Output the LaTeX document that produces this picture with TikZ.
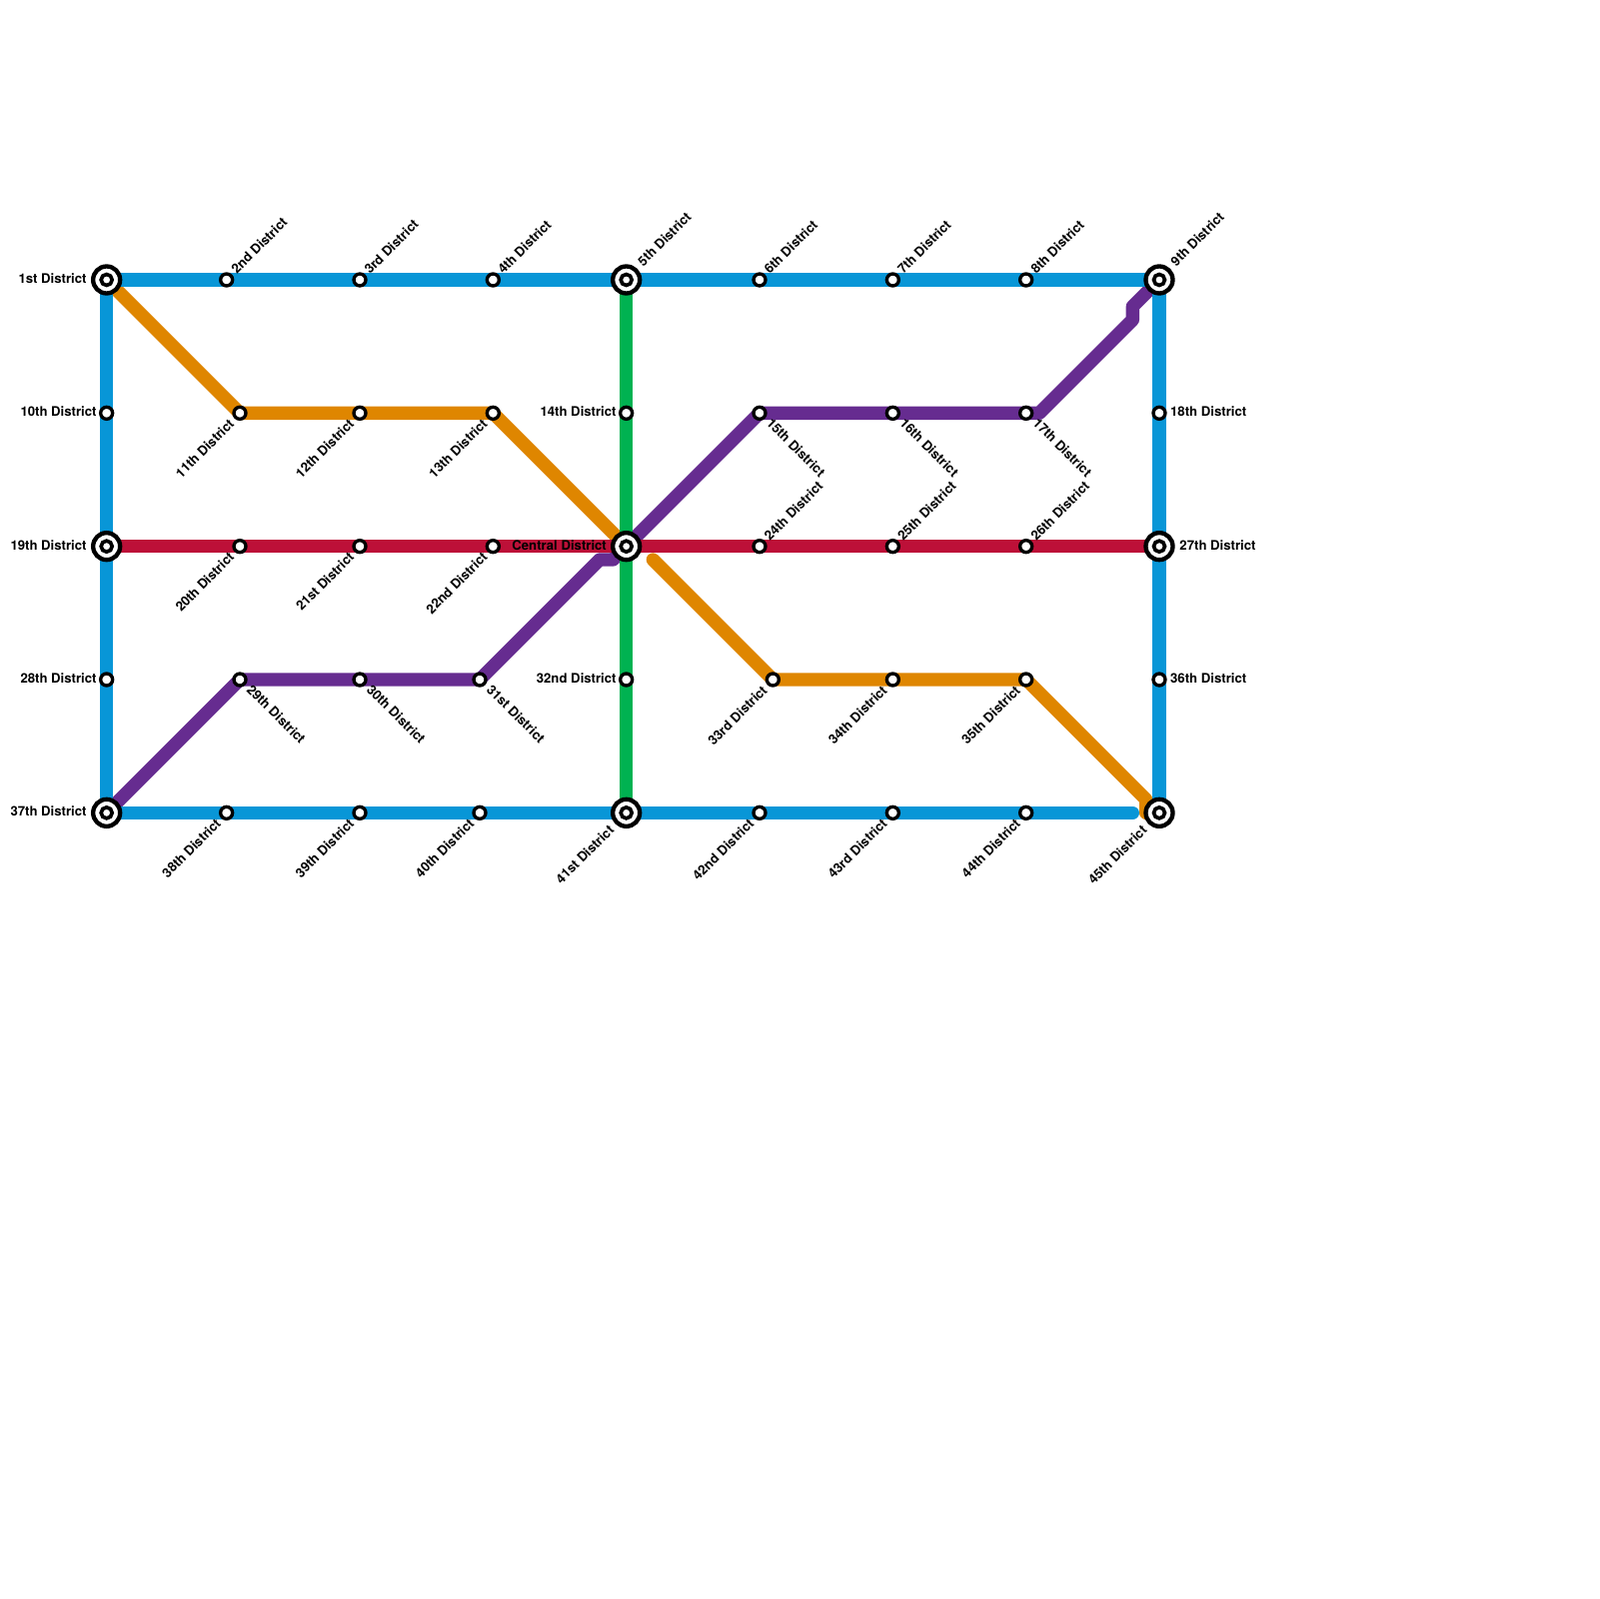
\documentclass[tikz,border=0pt]{standalone}
\usepackage{fontspec}
\setmainfont{TeX Gyre Heros}
\usetikzlibrary{backgrounds}
\definecolor{lineBlue}{HTML}{0896D7}
\definecolor{lineOrange}{HTML}{DF8600}
\definecolor{lineRed}{HTML}{BD1038}
\definecolor{lineGreen}{HTML}{00B251}
\definecolor{linePurple}{HTML}{662C90}
\begin{document}
\begin{tikzpicture}[
    x=2mm, y=-2mm,
    metro/.style={draw=#1, line width=2mm, line cap=round, line join=round},
    stop/.style={circle, draw=black, fill=white, line width=.5mm, minimum size=1.8mm,
                 inner sep=0pt, outer sep=0pt},
    hub/.style={circle, draw=black, fill=white, line width=.65mm, minimum size=4.05mm,
                inner sep=0pt, outer sep=0pt},
    hubcore/.style={stop, line width=.55mm, minimum size=1.65mm},
    lbl/.style={font=\fontsize{5.62}{6}\bfseries\selectfont, inner sep=0pt, text=black},
    lblne/.style={lbl, rotate=45, anchor=west},
    lblse/.style={lbl, rotate=-45, anchor=west},
    lblsw/.style={lbl, rotate=45, anchor=east},
    lblw/.style={lbl, anchor=east},
    lble/.style={lbl, anchor=west},
]
\useasboundingbox (0,0) rectangle (120,120);

% plain stops, by side of their label
\foreach \n/\x/\y/\t in {d2/17/21/2nd, d3/27/21/3rd, d4/37/21/4th, d6/57/21/6th, d7/67/21/7th,
        d8/77/21/8th, d24/57/41/24th, d25/67/41/25th, d26/77/41/26th} {
    \node[stop] (\n) at (\x,\y) {};
    \node[lblne] (\n t) at ([shift={(.5,-.62)}]\n.center) {\t\ District};
}
\foreach \n/\x/\y/\t in {d11/18/31/11th, d12/27/31/12th, d13/37/31/13th, d20/18/41/20th,
        d21/27/41/21st, d22/37/41/22nd, d33/58/51/33rd, d34/67/51/34th, d35/77/51/35th,
        d38/17/61/38th, d39/27/61/39th, d40/36/61/40th, d42/57/61/42nd, d43/67/61/43rd,
        d44/77/61/44th} {
    \node[stop] (\n) at (\x,\y) {};
    \node[lblsw] (\n t) at ([shift={(-.6,.62)}]\n.center) {\t\ District};
}
\foreach \n/\x/\y/\t in {d15/57/31/15th, d16/67/31/16th, d17/77/31/17th, d29/18/51/29th,
        d30/27/51/30th, d31/36/51/31st} {
    \node[stop] (\n) at (\x,\y) {};
    \node[lblse] (\n t) at ([shift={(.7,.55)}]\n.center) {\t\ District};
}
\foreach \n/\x/\y/\t in {d10/8/31/10th, d14/47/31/14th, d28/8/51/28th, d32/47/51/32nd} {
    \node[stop] (\n) at (\x,\y) {};
    \node[lblw] (\n t) at ([shift={(-.72,-.1)}]\n.center) {\t\ District};
}
\foreach \n/\x/\y/\t in {d18/87/31/18th, d36/87/51/36th} {
    \node[stop] (\n) at (\x,\y) {};
    \node[lble] (\n t) at ([shift={(.8,-.1)}]\n.center) {\t\ District};
}

% interchanges
\foreach \n/\x/\y in {d1/8/21, d5/47/21, d9/87/21, d19/8/41, d23/47/41, d27/87/41,
        d37/8/61, d41/47/61, d45/87/61} {
    \node[hub] (\n) at (\x,\y) {};
    \node[hubcore] (\n c) at (\n.center) {};
}
\node[lblw] (d1t) at ([shift={(-1.47,-.1)}]d1.center) {1st District};
\node[lblw] (d19t) at ([shift={(-1.47,-.1)}]d19.center) {19th District};
\node[lblw] (d37t) at ([shift={(-1.47,-.1)}]d37.center) {37th District};
\node[lblw] (d23t) at ([shift={(-1.45,-.1)}]d23.center) {Central District};
\node[lble] (d27t) at ([shift={(1.5,-.1)}]d27.center) {27th District};
\node[lblne] (d5t) at ([shift={(1,-1.2)}]d5.center) {5th District};
\node[lblne] (d9t) at ([shift={(1,-1.2)}]d9.center) {9th District};
\node[lblsw] (d41t) at ([shift={(-1.1,1.1)}]d41.center) {41st District};
\node[lblsw] (d45t) at ([shift={(-1.1,1.1)}]d45.center) {45th District};

% bends between stops
\coordinate (bendA) at (45,42);
\coordinate (bendB) at (46,42);
\coordinate (bendC) at (78,31);
\coordinate (bendD) at (85,24);
\coordinate (bendE) at (85,23);
\coordinate (orangeStart) at (49,42);
\coordinate (bendF) at (86,60);
\coordinate (bendG) at (86,61);
\coordinate (blueEnd) at (85,61);

\begin{scope}[on background layer]
\draw[metro=lineOrange] (d1.center) -- (d11.center) -- (d13.center) -- (d23.center);
\draw[metro=lineOrange] (orangeStart) -- (d33.center) -- (d35.center) -- (bendF) -- (bendG) -- (d45.center);
\draw[metro=linePurple] (d37.center) -- (d29.center) -- (d31.center) -- (bendA) -- (bendB)
    -- (d23.center) -- (d15.center) -- (bendC) -- (bendD) -- (bendE) -- (d9.center);
\draw[metro=lineRed] (d19.center) -- (d27.center);
\draw[metro=lineGreen] (d5.center) -- (d41.center);
\draw[metro=lineBlue] (blueEnd) -- (d37.center) -- (d1.center) -- (d9.center) -- (d45.center);
\end{scope}
\end{tikzpicture}
\end{document}
